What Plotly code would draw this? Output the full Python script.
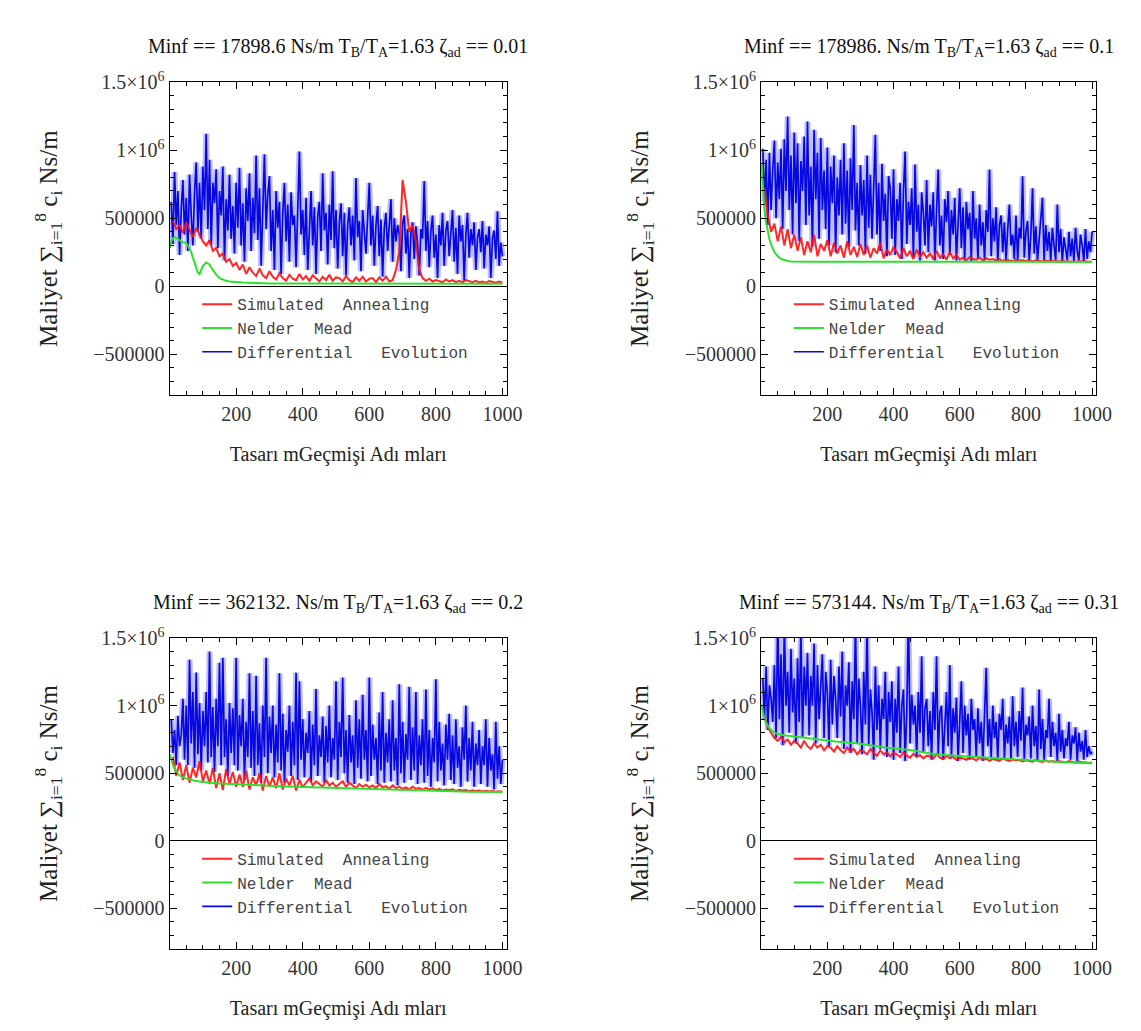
import plotly.graph_objects as go

# Optimisation histories of the total damping cost (thousands of Ns/m)
# for four damping ratios; iterations run from 1 to 1000.

zeta_labels = ["0.01", "0.1", "0.2", "0.31"]
minf_labels = ["17898.6", "178986.", "362132.", "573144."]
tb_ta = "1.63"

series_names = ["Simulated\u00a0\u00a0Annealing", "Nelder\u00a0\u00a0Mead",
                "Differential\u00a0\u00a0\u00a0Evolution"]

# ---- Differential Evolution (every 5th iteration) ----
de_z001 = [620, 310, 840, 450, 700, 230, 560,
           780, 380, 650, 260, 820, 520, 300, 690,
           910, 400, 760, 350, 880, 560,
           1120, 420, 930, 300, 760, 610,
           860, 280, 700, 520, 880, 190, 640, 410, 820, 350, 590, 240,
           760, 430, 870, 300, 610, 180, 720, 480, 830, 260, 650, 390,
           960, 340, 720, 150, 580, 970, 420, 680,
           810, 260, 560, 120, 700, 430, 620, 90, 540, 760, 330, 600, 180, 690, 450, 520, 140, 640,
           990, 380, 560, 230, 650, 120, 490, 700, 300, 580, 90, 510, 620, 260, 830, 410, 540, 160, 600, 340, 845, 280,
           560, 130, 470, 610, 220, 540, 80, 450, 580, 300, 520, 190, 795, 360, 480, 110, 560, 420, 240, 510,
           760, 300, 520, 150, 450, 590, 220, 490, 70, 430, 540, 260, 470, 640, 180, 500, 330, 450,
           380, 110, 460, 520, 240, 420, 60, 390, 470, 200, 440, 310, 80, 420, 350, 773,
           260, 480, 140, 410, 520, 210, 380, 60, 450, 300, 540, 150, 410, 480, 220, 390,
           560, 180, 430, 90, 520, 330, 450, 40, 380, 540, 210, 420, 300, 470, 120, 360,
           420, 250, 480, 130, 380, 300, 440, 60, 350, 410, 200, 550, 150, 320, 220]

de_z01 = [1010, 620, 930, 450, 980, 560, 860,
          1070, 500, 910, 640, 1010, 420, 1080, 700,
          1247, 560, 960, 380, 1130, 610,
          1050, 330, 920, 700, 1100, 450,
          1210, 520, 880, 290, 1150, 640, 980, 350, 1090, 560, 850, 420,
          1020, 300, 880, 610, 960, 250, 800, 520, 930, 380, 1050, 460,
          850, 290, 940, 560, 1185, 410, 760, 300,
          890, 520, 780, 240, 960, 430, 820, 350, 690, 1113, 380, 760, 260, 900, 480, 680, 220, 810,
          720, 350, 860, 230, 640, 480, 760, 200, 700, 990, 310, 620, 450, 720, 210, 895, 400, 600, 190, 690, 540, 300,
          780, 250, 600, 440, 690, 190, 560, 858, 300, 520, 200, 640, 470, 700, 230, 560, 380, 650, 190, 500,
          720, 280, 580, 190, 620, 420, 540, 185, 700, 350, 500, 200, 600, 300, 470, 190, 560, 400,
          858, 220, 500, 330, 580, 185, 450, 520, 250, 470, 190, 420, 600, 300, 380, 200,
          520, 190, 430, 350, 809, 210, 400, 480, 185, 380, 720, 240, 440, 190, 360, 500,
          650, 190, 450, 260, 400, 185, 430, 300, 190, 600, 250, 420, 180, 360, 280, 190,
          400, 220, 350, 180, 430, 260, 190, 380, 300, 185, 420, 200, 330, 250, 400]

de_z02 = [900, 650, 820, 560, 925, 700, 780,
          1050, 600, 1000, 560, 1340, 720, 1100, 540,
          1245, 640, 1020, 520, 960, 700,
          1100, 580, 1400, 620, 990, 510,
          1050, 700, 1317, 560, 1354, 620, 900, 480, 1020, 650, 980, 560,
          1354, 520, 930, 700, 1050, 450, 880, 620, 1240, 540, 960, 480,
          1220, 560, 870, 430, 1000, 620, 1354, 500,
          920, 650, 1000, 470, 860, 580, 1240, 520, 940, 430, 820, 660, 1000, 480, 880, 560, 1244, 450,
          1180, 600, 900, 470, 800, 650, 960, 440, 860, 560, 1122, 480, 780, 620, 920, 430, 850, 580, 1000, 470, 760, 600,
          1180, 450, 880, 620, 1207, 500, 820, 430, 930, 580, 780, 420, 1040, 540, 900, 460, 1080, 600, 820, 440,
          1207, 480, 860, 600, 760, 420, 950, 520, 1100, 430, 800, 580, 900, 440, 1040, 520, 760, 410,
          1158, 500, 880, 430, 790, 600, 1140, 450, 840, 520, 1100, 420, 780, 560, 900, 430,
          1120, 480, 820, 400, 760, 580, 1195, 440, 880, 520, 720, 410, 860, 600, 940, 450,
          780, 420, 900, 540, 700, 400, 840, 600, 1000, 440, 760, 520, 880, 400, 720, 560,
          820, 420, 700, 560, 900, 400, 760, 520, 640, 380, 880, 460, 700, 420, 600]

de_z031 = [1200, 900, 1290, 820, 1150, 1050, 880,
           1300, 760, 1650, 900, 1380, 707, 1600, 1000,
           1250, 800, 1420, 950, 1200, 720,
           1350, 880, 1560, 760, 1290, 1000,
           1390, 780, 1220, 1000, 1460, 720, 1300, 900, 1180, 1380, 760, 1250,
           1100, 700, 1340, 860, 1220, 1050, 760, 1290, 920, 1400, 680, 1150,
           1000, 1320, 650, 1180, 900, 1620, 720, 1200,
           1000, 640, 1250, 860, 1600, 700, 1120, 950, 600, 1290, 820, 1150, 680, 1050, 900, 1250, 620, 1100,
           880, 1180, 600, 1050, 800, 1290, 650, 1000, 1120, 590, 950, 1700, 720, 1080, 860, 1000, 620, 1100, 800, 1365, 650, 980,
           1050, 700, 960, 600, 1100, 820, 1365, 640, 950, 1000, 600, 900, 1100, 700, 1300, 620, 980, 800, 1060, 590,
           920, 1180, 650, 1000, 780, 940, 600, 1050, 820, 900, 620, 980, 720, 880, 590, 960, 1280, 700,
           900, 620, 1000, 760, 880, 600, 940, 820, 1050, 610, 860, 720, 920, 600, 1070, 700,
           880, 620, 960, 740, 1134, 600, 860, 780, 920, 610, 1000, 700, 850, 590, 1120, 680,
           900, 600, 820, 760, 1050, 620, 880, 700, 800, 590, 940, 660, 820, 610, 760, 700,
           880, 600, 780, 720, 840, 590, 800, 660, 740, 600, 820, 620, 700, 640, 660]

# ---- Simulated Annealing (every 10th iteration) ----
sa_z001 = [480, 420, 450, 390, 470, 410, 360, 430, 380, 330,
           300, 340, 260, 280, 220, 240, 180, 200, 150, 170,
           120, 160, 90, 140, 100, 75, 130, 80, 60, 110,
           70, 50, 95, 60, 40, 85, 55, 45, 90, 50,
           75, 40, 80, 55, 35, 70, 45, 85, 40, 65,
           60, 35, 75, 45, 30, 65, 40, 70, 35, 55,
           60, 30, 65, 40, 70, 35, 45, 120, 250, 780,
           620, 400, 450, 330, 120, 60, 40, 55, 35, 45,
           40, 30, 50, 35, 45, 30, 40, 28, 45, 35,
           30, 40, 28, 35, 25, 38, 30, 26, 34, 28]

sa_z01 = [720, 520, 400, 460, 330, 440, 300, 420, 280, 380,
          260, 360, 230, 330, 250, 380, 220, 310, 260, 340,
          220, 320, 240, 300, 210, 330, 230, 290, 215, 310,
          230, 300, 210, 280, 240, 320, 205, 270, 230, 290,
          250, 205, 280, 220, 260, 200, 270, 215, 250, 210,
          240, 200, 260, 210, 235, 195, 250, 205, 230, 195,
          210, 190, 215, 200, 195, 210, 190, 205, 195, 200,
          190, 200, 185, 195, 190, 185, 195, 188, 192, 185,
          188, 183, 190, 185, 182, 187, 183, 186, 182, 184,
          183, 181, 184, 182, 180, 183, 181, 180, 182, 180]

sa_z02 = [620, 480, 580, 450, 560, 430, 540, 470, 590, 440,
          520, 420, 540, 390, 500, 375, 530, 420, 510, 400,
          490, 400, 520, 380, 470, 410, 500, 372, 480, 400,
          470, 390, 500, 380, 460, 410, 480, 372, 450, 395,
          430, 460, 410, 440, 420, 400, 450, 410, 430, 400,
          420, 440, 400, 430, 410, 390, 420, 400, 415, 395,
          410, 390, 420, 395, 405, 385, 410, 390, 400, 385,
          395, 380, 400, 385, 390, 378, 392, 380, 388, 375,
          385, 372, 380, 376, 382, 370, 378, 372, 376, 368,
          374, 368, 372, 366, 370, 365, 368, 364, 366, 363]

sa_z031 = [920, 840, 800, 760, 740, 770, 730, 750, 710, 740,
           720, 690, 740, 700, 680, 720, 690, 710, 670, 700,
           690, 660, 700, 670, 650, 690, 660, 680, 640, 670,
           660, 640, 680, 650, 630, 670, 640, 655, 625, 650,
           640, 620, 655, 630, 615, 645, 620, 635, 610, 630,
           625, 610, 640, 615, 605, 630, 610, 620, 600, 615,
           610, 600, 620, 605, 595, 615, 600, 608, 592, 605,
           600, 592, 608, 596, 590, 602, 594, 598, 588, 596,
           592, 586, 598, 588, 584, 594, 586, 590, 582, 588,
           586, 580, 590, 582, 578, 586, 580, 582, 576, 580]

# ---- Nelder-Mead (iteration, cost) ----
nm_iter_z001 = [1, 5, 10, 15, 20, 25, 30, 35, 40, 45, 50, 55, 60, 65, 70, 75, 80, 85, 90,
                95, 100, 110, 120, 130, 140, 150, 160, 170, 180, 190, 200, 220, 240, 260,
                280, 300, 350, 400, 450, 500, 600, 700, 800, 900, 1000]
nm_z001 = [280, 330, 350, 360, 355, 345, 340, 330, 325, 320, 315, 300, 280, 250, 210, 170,
           130, 100, 90, 120, 150, 175, 160, 120, 85, 60, 48, 40, 35, 32, 30, 27, 25, 23,
           22, 21, 20, 19.5, 19, 18.8, 18.5, 18.3, 18.1, 18.0, 17.9]

nm_iter_z01 = [1, 5, 10, 15, 20, 25, 30, 35, 40, 45, 50, 55, 60, 70, 80, 90, 100, 120, 150,
               200, 300, 400, 500, 600, 700, 800, 900, 1000]
nm_z01 = [900, 700, 560, 470, 400, 345, 305, 275, 252, 235, 220, 210, 200, 190, 185, 182,
          181, 180.5, 180, 179.6, 179.4, 179.2, 179.1, 179.05, 179.02, 179.0, 178.99, 178.986]

nm_iter_z02 = [1, 5, 10, 20, 30, 40, 50, 75, 100, 150, 200, 250, 300, 350, 400, 450, 500,
               550, 600, 650, 700, 750, 800, 850, 900, 950, 1000]
nm_z02 = [640, 600, 560, 510, 485, 470, 460, 445, 435, 425, 418, 412, 408, 402, 398, 394,
          390, 386, 382, 378, 374, 371, 368, 366, 364, 363, 362.1]

nm_iter_z031 = [1, 5, 10, 20, 30, 40, 50, 75, 100, 150, 225, 300, 375, 450, 525, 600, 650,
                700, 750, 800, 850, 900, 950, 1000]
nm_z031 = [1000, 950, 900, 850, 820, 800, 790, 780, 772, 755, 735, 718, 690, 672, 640, 628,
           620, 612, 605, 598, 590, 584, 578, 573.1]

de_all = [de_z001, de_z01, de_z02, de_z031]
sa_all = [sa_z001, sa_z01, sa_z02, sa_z031]
nm_all = [(nm_iter_z001, nm_z001), (nm_iter_z01, nm_z01),
          (nm_iter_z02, nm_z02), (nm_iter_z031, nm_z031)]

W, H = 1141, 1031
SERIF = "Liberation Serif, Times New Roman, serif"
MONO = "Courier New, Nimbus Mono PS, FreeMono, Liberation Mono, monospace"

RED = "#ff1010"
GREEN = "#2ee02e"
BLUE = "#0808e0"
BLUE_HALO = "rgba(110,110,255,0.45)"

# panel frames in pixels: (left, right, top, bottom)
frames = [(172, 514, 70, 387), (772, 1112, 70, 387),
          (172, 514, 633, 948), (772, 1112, 633, 948)]


def iterations(values):
    n = len(values)
    return [1000 * (i + 1) / n for i in range(n)]


fig = go.Figure()
layout = dict(width=W, height=H, margin=dict(l=0, r=0, t=0, b=0),
              paper_bgcolor="white", plot_bgcolor="white", annotations=[])

for p in range(4):
    sfx = "" if p == 0 else str(p + 1)
    xa, ya = "x" + sfx, "y" + sfx
    leg = "legend" + sfx
    left, right, top, bottom = frames[p]

    de = de_all[p]
    sa = sa_all[p]
    nm_x, nm_y = nm_all[p]
    de_x = iterations(de)
    de_y = [v * 1000 for v in de]

    # soft lavender halo under the Differential Evolution history
    fig.add_trace(go.Scatter(x=de_x, y=de_y, mode="lines",
                             line=dict(color=BLUE_HALO, width=6), showlegend=False,
                             hoverinfo="skip", xaxis=xa, yaxis=ya, legend=leg))
    fig.add_trace(go.Scatter(x=de_x, y=de_y, mode="lines",
                             line=dict(color=BLUE, width=1.7), name=series_names[2],
                             xaxis=xa, yaxis=ya, legend=leg, legendrank=3))
    fig.add_trace(go.Scatter(x=iterations(sa), y=[v * 1000 for v in sa], mode="lines",
                             line=dict(color=RED, width=2), opacity=0.9,
                             name=series_names[0], xaxis=xa, yaxis=ya, legend=leg,
                             legendrank=1))
    fig.add_trace(go.Scatter(x=nm_x, y=[v * 1000 for v in nm_y], mode="lines",
                             line=dict(color=GREEN, width=2), name=series_names[1],
                             xaxis=xa, yaxis=ya, legend=leg, legendrank=2))

    layout["xaxis" + sfx] = dict(
        domain=[left / W, right / W], anchor=ya, range=[0, 1013],
        tickmode="array", tickvals=[200, 400, 600, 800, 1000],
        ticks="inside", ticklen=7, tickwidth=1, tickcolor="black",
        minor=dict(tickmode="linear", tick0=0, dtick=50, ticks="inside",
                   ticklen=4, tickcolor="black"),
        showline=True, linecolor="black", linewidth=1.3, mirror="allticks",
        showgrid=False, zeroline=False, ticklabelstandoff=1,
        tickfont=dict(family=SERIF, size=20, color="#333"),
        title=dict(text="Tasarı mGeçmişi Adı mları",
                   font=dict(family=SERIF, size=20, color="#222"), standoff=22))
    layout["yaxis" + sfx] = dict(
        domain=[1 - bottom / H, 1 - top / H], anchor=xa, range=[-800000, 1500000],
        tickmode="array", tickvals=[-500000, 0, 500000, 1000000, 1500000],
        ticktext=["\u2212500000", "0", "500000", "1\u00d710<sup>6</sup>",
                  "1.5\u00d710<sup>6</sup>"],
        ticks="inside", ticklen=7, tickwidth=1, tickcolor="black",
        minor=dict(tickmode="linear", tick0=0, dtick=100000, ticks="inside",
                   ticklen=4, tickcolor="black"),
        showline=True, linecolor="black", linewidth=1.3, mirror="allticks",
        showgrid=False, zeroline=True, zerolinecolor="black", zerolinewidth=1.3,
        tickfont=dict(family=SERIF, size=20, color="#333"),
        title=dict(text="Maliyet \u2211<sub>i=1</sub><sup>8</sup> c<sub>i</sub> Ns/m",
                   font=dict(family=SERIF, size=25, color="#222"), standoff=28))
    zero_px = top + (bottom - top) * 1500 / 2300
    layout[leg] = dict(x=(left + 28) / W, y=1 - (zero_px + 1) / H,
                       xanchor="left", yanchor="top", bgcolor="rgba(0,0,0,0)",
                       font=dict(family=MONO, size=16, color="#444"),
                       itemwidth=30, tracegroupgap=0)
    layout["annotations"].append(dict(
        x=(left + right) / 2 / W, y=1 - (top - 35) / H, xref="paper", yref="paper",
        xanchor="center", yanchor="middle", showarrow=False,
        text=f"Minf == {minf_labels[p]} Ns/m T<sub>B</sub>/T<sub>A</sub>={tb_ta} "
             f"\u03b6<sub>ad</sub> == {zeta_labels[p]}",
        font=dict(family=SERIF, size=20, color="#111")))

fig.update_layout(**layout)
fig.write_html("out.html")
